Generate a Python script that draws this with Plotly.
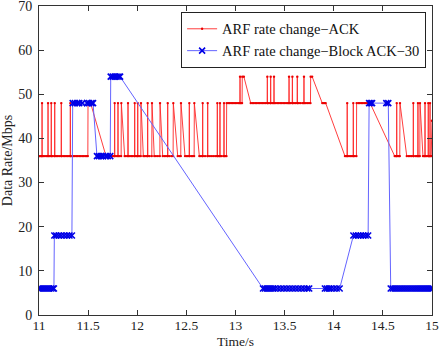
import plotly.graph_objects as go

# ---------------- data ----------------
ack_points = [
    (11.000,36),(11.012,36),(11.024,36),(11.030,36),(11.031,48),(11.033,36),(11.045,36),(11.060,36),
    (11.075,36),(11.090,36),(11.092,48),(11.094,36),(11.108,36),(11.123,36),(11.125,48),(11.127,36),
    (11.140,36),(11.158,36),(11.160,48),(11.162,36),(11.175,36),(11.190,36),(11.205,36),(11.225,36),
    (11.227,48),(11.229,36),(11.245,36),(11.260,36),(11.275,36),(11.290,36),(11.305,36),(11.317,36),
    (11.319,48),(11.321,36),(11.335,36),(11.350,36),(11.365,36),(11.380,36),(11.395,36),(11.410,36),
    (11.425,36),(11.440,36),(11.455,36),(11.470,36),(11.485,36),(11.497,36),(11.499,48),(11.510,48),
    (11.525,48),(11.682,36),(11.695,36),(11.710,36),(11.725,36),(11.740,36),(11.755,36),(11.768,36),
    (11.770,48),(11.772,36),(11.785,36),(11.802,36),(11.804,48),(11.806,36),(11.820,36),(11.836,36),
    (11.838,48),(11.872,36),(11.885,36),(11.904,36),(11.906,48),(11.908,36),(11.925,36),(11.940,36),
    (11.955,36),(11.972,36),(11.974,48),(11.976,36),(11.990,36),(12.003,36),(12.005,48),(12.007,36),
    (12.020,36),(12.036,36),(12.038,48),(12.062,36),(12.075,36),(12.090,36),(12.104,36),(12.106,48),
    (12.108,36),(12.125,36),(12.148,36),(12.150,48),(12.173,36),(12.190,36),(12.210,36),(12.230,36),
    (12.232,48),(12.259,36),(12.275,36),(12.292,36),(12.308,36),(12.310,48),(12.312,36),(12.330,36),
    (12.350,36),(12.365,36),(12.367,48),(12.412,36),(12.428,36),(12.443,36),(12.445,48),(12.486,36),
    (12.500,36),(12.515,36),(12.528,36),(12.530,48),(12.532,36),(12.550,36),(12.565,36),(12.579,36),
    (12.581,48),(12.632,36),(12.648,36),(12.664,36),(12.666,48),(12.668,36),(12.690,36),(12.715,36),
    (12.717,48),(12.719,36),(12.740,36),(12.760,36),(12.780,36),(12.800,36),(12.813,36),(12.815,48),
    (12.817,36),(12.830,36),(12.840,36),(12.842,48),(12.844,36),(12.860,36),(12.881,36),(12.883,48),
    (12.885,36),(12.895,36),(12.908,36),(12.910,48),(12.925,48),(12.940,48),(12.955,48),(12.970,48),
    (12.985,48),(13.000,48),(13.015,48),(13.030,48),(13.044,48),(13.046,54),(13.048,48),(13.058,48),
    (13.067,48),(13.069,54),(13.085,54),(13.155,48),(13.170,48),(13.185,48),(13.200,48),(13.215,48),
    (13.230,48),(13.245,48),(13.260,48),(13.275,48),(13.290,48),(13.305,48),(13.322,48),(13.324,54),
    (13.326,48),(13.340,48),(13.356,48),(13.358,54),(13.360,48),(13.375,48),(13.390,48),(13.392,54),
    (13.394,48),(13.410,48),(13.425,48),(13.440,48),(13.455,48),(13.470,48),(13.485,48),(13.500,48),
    (13.515,48),(13.530,48),(13.543,48),(13.545,54),(13.547,48),(13.560,48),(13.577,48),(13.579,54),
    (13.581,48),(13.595,48),(13.610,48),(13.627,48),(13.629,54),(13.631,48),(13.645,48),(13.660,48),
    (13.680,48),(13.695,48),(13.697,54),(13.699,48),(13.715,48),(13.730,48),(13.748,48),(13.763,48),
    (13.765,54),(13.780,54),(13.883,48),(13.895,48),(13.908,48),(13.918,48),(14.114,36),(14.125,36),
    (14.135,36),(14.137,48),(14.139,36),(14.155,36),(14.170,36),(14.185,36),(14.197,36),(14.199,48),
    (14.201,36),(14.215,36),(14.231,36),(14.233,48),(14.250,48),(14.265,48),(14.280,48),(14.295,48),
    (14.310,48),(14.325,48),(14.340,48),(14.355,48),(14.370,48),(14.620,36),(14.630,36),(14.639,36),
    (14.641,48),(14.643,36),(14.655,36),(14.665,36),(14.672,36),(14.674,48),(14.743,36),(14.760,36),
    (14.775,36),(14.790,36),(14.808,36),(14.810,48),(14.812,36),(14.830,36),(14.845,36),(14.855,36),
    (14.857,48),(14.859,36),(14.868,36),(14.876,36),(14.878,48),(14.908,36),(14.918,36),(14.927,36),
    (14.929,48),(14.931,36),(14.945,36),(14.960,36),(14.962,48),(14.964,36),(14.972,36),(14.978,36),
    (14.980,48),(14.982,36),(14.992,36),(15.000,44),
]
ack_time = [p[0] for p in ack_points]
ack_rate = [p[1] for p in ack_points]

back_points = [
    (11.000,6),(11.020,6),(11.040,6),(11.060,6),(11.080,6),(11.100,6),(11.120,6),(11.140,6),(11.152,6),
    (11.156,18),(11.175,18),(11.200,18),(11.225,18),(11.255,18),(11.285,18),(11.310,18),(11.335,18),
    (11.343,48),(11.365,48),(11.390,48),(11.410,48),(11.440,48),(11.490,48),(11.510,48),(11.535,48),(11.550,48),
    (11.590,36),(11.610,36),(11.630,36),(11.650,36),(11.680,36),(11.700,36),(11.725,36),
    (11.730,54),(11.750,54),(11.770,54),(11.790,54),(11.810,54),(11.825,54),
    (13.280,6),(13.300,6),(13.320,6),(13.340,6),(13.360,6),(13.380,6),(13.400,6),(13.430,6),(13.460,6),
    (13.490,6),(13.520,6),(13.550,6),(13.580,6),(13.610,6),(13.640,6),(13.670,6),(13.700,6),(13.730,6),(13.750,6),
    (13.910,6),(13.930,6),(13.950,6),(13.970,6),(14.000,6),(14.030,6),(14.060,6),
    (14.200,18),(14.225,18),(14.250,18),(14.275,18),(14.300,18),(14.325,18),(14.350,18),
    (14.360,48),(14.375,48),(14.390,48),(14.535,48),(14.555,48),
    (14.580,6),(14.600,6),(14.620,6),(14.640,6),(14.660,6),(14.680,6),(14.700,6),(14.720,6),(14.740,6),
    (14.760,6),(14.780,6),(14.800,6),(14.820,6),(14.840,6),(14.860,6),(14.880,6),(14.900,6),(14.920,6),
    (14.940,6),(14.960,6),(14.980,6),(15.000,6),
]
back_time = [p[0] for p in back_points]
back_rate = [p[1] for p in back_points]

series_names = ["ARF rate change\u2212ACK", "ARF rate change\u2212Block ACK\u221230"]
x_title = "Time/s"
y_title = "Data Rate/Mbps"
x_ticks = [11, 11.5, 12, 12.5, 13, 13.5, 14, 14.5, 15]
x_tick_labels = ["11", "11.5", "12", "12.5", "13", "13.5", "14", "14.5", "15"]
y_ticks = [0, 10, 20, 30, 40, 50, 60, 70]

# ---------------- figure ----------------
FONT = "Liberation Serif"

fig = go.Figure()
fig.add_trace(go.Scatter(
    x=ack_time, y=ack_rate, mode="lines+markers", name=series_names[0],
    line=dict(color="rgb(255,40,40)", width=0.9),
    marker=dict(symbol="circle", size=2.4, color="rgb(235,0,0)"),
))
fig.add_trace(go.Scatter(
    x=back_time, y=back_rate, mode="lines+markers", name=series_names[1],
    line=dict(color="rgb(100,100,255)", width=1),
    marker=dict(symbol="x-thin", size=6, line=dict(color="rgb(0,0,230)", width=1.6)),
))

axis_common = dict(
    showline=True, linecolor="#333333", linewidth=1, mirror="ticks",
    ticks="inside", ticklen=5, tickcolor="#333333",
    showgrid=False, zeroline=False, ticklabeloverflow="allow", automargin=False,
)

fig.update_layout(
    width=442, height=348,
    margin=dict(l=39, r=10, t=6, b=33, autoexpand=False),
    paper_bgcolor="white", plot_bgcolor="white",
    font=dict(family=FONT, size=14, color="#222222"),
    xaxis=dict(range=[11, 15], tickvals=x_ticks, ticktext=x_tick_labels,
               ticklabelstandoff=-2,
               tickfont=dict(family=FONT, size=13.5, color="#222222"),
               **axis_common),
    yaxis=dict(range=[0, 70], tickvals=y_ticks, ticklabelstandoff=3,
               tickfont=dict(family=FONT, size=14, color="#222222"),
               title=dict(text=y_title, font=dict(family=FONT, size=14), standoff=2),
               **axis_common),
    legend=dict(x=0.985, y=0.981, xanchor="right", yanchor="top",
                bgcolor="white", bordercolor="#222222", borderwidth=1,
                font=dict(family=FONT, size=14.5, color="#111111"),
                tracegroupgap=0, itemwidth=30),
    showlegend=True,
)
fig.add_annotation(
    text=x_title, xref="paper", yref="paper", x=0.5, y=0, xanchor="center", yanchor="bottom",
    yshift=-35, borderpad=0, showarrow=False, font=dict(family=FONT, size=13.5, color="#222222"),
)

fig.write_html("out.html")
